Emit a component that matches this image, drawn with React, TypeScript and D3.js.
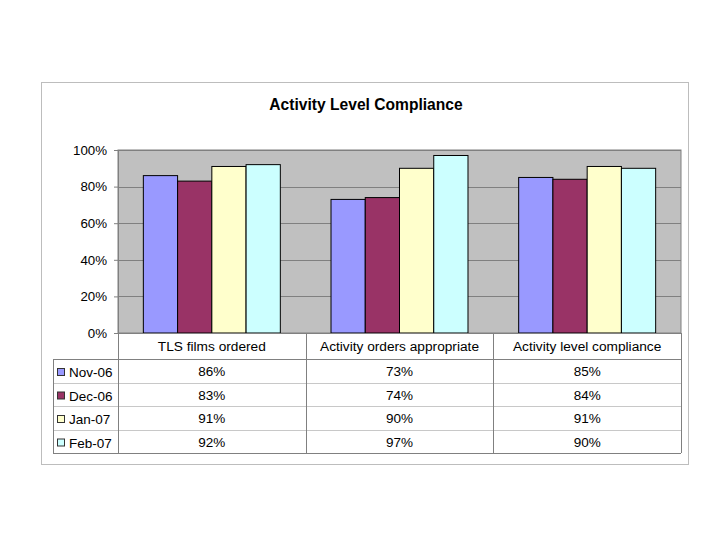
import { useEffect, useRef } from 'react'
import * as d3 from 'd3'

const categories = ['TLS films ordered', 'Activity orders appropriate', 'Activity level compliance']
const seriesNames = ['Nov-06', 'Dec-06', 'Jan-07', 'Feb-07']
const seriesColors = ['#9999FF', '#993366', '#FFFFCC', '#CCFFFF']
const nov06 = [86, 73, 85]
const dec06 = [83, 74, 84]
const jan07 = [91, 90, 91]
const feb07 = [92, 97, 90]
const yTicks = [0, 20, 40, 60, 80, 100]

const FONT = '"Liberation Sans", Arial, sans-serif'

export default function App() {
  const svgRef = useRef<SVGSVGElement>(null)

  useEffect(() => {
    if (!svgRef.current) return
    const svg = d3.select(svgRef.current)
    svg.selectAll('*').remove()

    const series = [nov06, dec06, jan07, feb07]
    const plot = { left: 118, right: 681, top: 150, bottom: 333 }
    const rowH = 23.5
    const headerBottom = 359
    const legendLeft = 53

    // outer chart frame
    svg.append('rect')
      .attr('x', 41.5).attr('y', 82.5)
      .attr('width', 647).attr('height', 382)
      .attr('fill', '#fff')
      .attr('stroke', '#bdbdbd')

    // title
    svg.append('text')
      .attr('x', 366).attr('y', 110)
      .attr('text-anchor', 'middle')
      .style('font-family', FONT)
      .style('font-size', '15.6px')
      .style('font-weight', 'bold')
      .text('Activity Level Compliance')

    const x0 = d3.scaleBand()
      .domain(categories)
      .range([plot.left, plot.right])
      .padding(0)

    const x1 = d3.scaleBand()
      .domain(seriesNames)
      .range([0, x0.bandwidth()])
      .paddingInner(0)
      .paddingOuter(0.74)

    const y = d3.scaleLinear()
      .domain([0, 100])
      .range([plot.bottom, plot.top])

    // plot area
    svg.append('rect')
      .attr('x', plot.left).attr('y', plot.top)
      .attr('width', plot.right - plot.left)
      .attr('height', plot.bottom - plot.top)
      .attr('fill', '#c0c0c0')
      .attr('stroke', '#808080')

    // gridlines
    svg.append('g')
      .selectAll('line')
      .data(yTicks.filter(d => d > 0))
      .join('line')
      .attr('x1', plot.left).attr('x2', plot.right)
      .attr('y1', d => Math.round(y(d)) + 0.5)
      .attr('y2', d => Math.round(y(d)) + 0.5)
      .attr('stroke', '#808080')

    // y axis
    const yAxis = svg.append('g')
      .attr('transform', `translate(${plot.left}, 0)`)
      .call(d3.axisLeft(y).tickValues(yTicks).tickSize(4).tickPadding(7).tickFormat(d => `${d}%`))
    yAxis.select('.domain').attr('stroke', '#808080')
    yAxis.selectAll('.tick line').attr('stroke', '#808080')
    yAxis.selectAll('text')
      .style('font-family', FONT)
      .style('font-size', '13.3px')
      .attr('fill', '#000')

    // bars
    categories.forEach((cat, ci) => {
      const g = svg.append('g').attr('transform', `translate(${x0(cat)}, 0)`)
      seriesNames.forEach((s, si) => {
        const v = series[si][ci]
        g.append('rect')
          .attr('x', x1(s)!)
          .attr('y', y(v))
          .attr('width', x1.bandwidth())
          .attr('height', y(0) - y(v))
          .attr('fill', seriesColors[si])
          .attr('stroke', '#000')
          .attr('stroke-width', 1)
      })
    })

    // data table
    const table = svg.append('g')
    const lineColor = '#808080'
    const tableBottom = headerBottom + rowH * seriesNames.length

    // horizontal lines
    table.append('line')
      .attr('x1', plot.left).attr('x2', plot.right)
      .attr('y1', plot.bottom + 0.5).attr('y2', plot.bottom + 0.5)
      .attr('stroke', lineColor)
    d3.range(seriesNames.length + 1).forEach(i => {
      const yy = Math.round(headerBottom + i * rowH) + 0.5
      table.append('line')
        .attr('x1', legendLeft).attr('x2', plot.right)
        .attr('y1', yy).attr('y2', yy)
        .attr('stroke', i === 0 || i === seriesNames.length ? lineColor : '#c8c8c8')
    })
    // vertical lines
    table.append('line')
      .attr('x1', legendLeft + 0.5).attr('x2', legendLeft + 0.5)
      .attr('y1', headerBottom).attr('y2', tableBottom)
      .attr('stroke', lineColor)
    ;[...categories.map(c => x0(c)!), plot.right].forEach(xx => {
      table.append('line')
        .attr('x1', Math.round(xx) + 0.5).attr('x2', Math.round(xx) + 0.5)
        .attr('y1', plot.bottom).attr('y2', tableBottom)
        .attr('stroke', lineColor)
    })

    // header text
    categories.forEach(cat => {
      table.append('text')
        .attr('x', x0(cat)! + x0.bandwidth() / 2)
        .attr('y', plot.bottom + 18)
        .attr('text-anchor', 'middle')
        .style('font-family', FONT)
        .style('font-size', '13.7px')
        .text(cat)
    })

    // rows
    seriesNames.forEach((s, si) => {
      const rowTop = headerBottom + si * rowH
      table.append('rect')
        .attr('x', 57.5).attr('y', rowTop + 9.5)
        .attr('width', 7).attr('height', 7)
        .attr('fill', seriesColors[si])
        .attr('stroke', '#333')
      table.append('text')
        .attr('x', 69).attr('y', rowTop + 18)
        .style('font-family', FONT)
        .style('font-size', '13.5px')
        .text(s)
      categories.forEach((cat, ci) => {
        table.append('text')
          .attr('x', x0(cat)! + x0.bandwidth() / 2)
          .attr('y', rowTop + 17)
          .attr('text-anchor', 'middle')
          .style('font-family', FONT)
          .style('font-size', '13.5px')
          .text(`${series[si][ci]}%`)
      })
    })
  }, [])

  return (
    <svg
      ref={svgRef}
      width={720}
      height={540}
      style={{ position: 'absolute', left: 0, top: 0, background: '#fff' }}
    />
  )
}
